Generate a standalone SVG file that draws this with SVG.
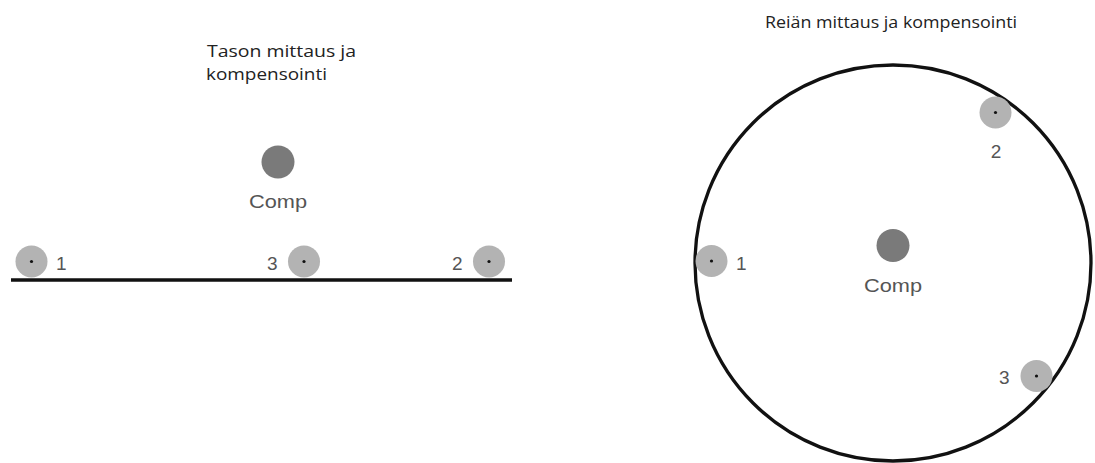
<svg xmlns="http://www.w3.org/2000/svg" width="1095" height="463" viewBox="0 0 1095 463">
<style>
.title{font-family:"Open Sans","Noto Sans",sans-serif;font-size:16px;fill:#222}
.lbl{font-family:"Liberation Sans",Arial,sans-serif;font-size:19px;fill:#555}
.sensor{fill:#b3b3b3}
.dot{fill:#111}
.comp{fill:#7a7a7a}
.edge{fill:none;stroke:#111;stroke-width:3.3}
</style>
<rect width="1095" height="463" fill="#fff"/>
<g id="left-title">
<text class="title" x="207" y="57" textLength="149" lengthAdjust="spacingAndGlyphs">Tason mittaus ja</text>
<text class="title" x="206" y="80" textLength="121" lengthAdjust="spacingAndGlyphs">kompensointi</text>
</g>
<g id="right-title">
<text class="title" x="765" y="28" textLength="252" lengthAdjust="spacingAndGlyphs">Reiän mittaus ja kompensointi</text>
</g>
<g id="connectors">
<line class="edge" x1="11" y1="280" x2="512" y2="280"/>
<circle class="edge" cx="893" cy="263" r="198"/>
</g>
<g id="left-comp">
<circle class="comp" cx="278" cy="162" r="16.5"/>
<text class="lbl" x="278" y="208" text-anchor="middle" textLength="58" lengthAdjust="spacingAndGlyphs">Comp</text>
</g>
<g id="left-s1">
<circle class="sensor" cx="31.5" cy="261.5" r="16"/>
<circle class="dot" cx="31.5" cy="261.5" r="1.6"/>
<text class="lbl" x="56" y="270">1</text>
</g>
<g id="left-s3">
<circle class="sensor" cx="304" cy="261.5" r="16"/>
<circle class="dot" cx="304" cy="261.5" r="1.6"/>
<text class="lbl" x="267" y="270">3</text>
</g>
<g id="left-s2">
<circle class="sensor" cx="489" cy="261.5" r="16"/>
<circle class="dot" cx="489" cy="261.5" r="1.6"/>
<text class="lbl" x="452" y="270">2</text>
</g>
<g id="right-comp">
<circle class="comp" cx="893" cy="245.5" r="16.5"/>
<text class="lbl" x="893" y="292" text-anchor="middle" textLength="58" lengthAdjust="spacingAndGlyphs">Comp</text>
</g>
<g id="right-s1">
<circle class="sensor" cx="711.5" cy="261" r="16"/>
<circle class="dot" cx="711.5" cy="261" r="1.6"/>
<text class="lbl" x="736" y="270">1</text>
</g>
<g id="right-s2">
<circle class="sensor" cx="995.5" cy="112.5" r="16"/>
<circle class="dot" cx="995.5" cy="112.5" r="1.6"/>
<text class="lbl" x="996" y="158" text-anchor="middle">2</text>
</g>
<g id="right-s3">
<circle class="sensor" cx="1036.5" cy="376" r="16"/>
<circle class="dot" cx="1036.5" cy="376" r="1.6"/>
<text class="lbl" x="999" y="384">3</text>
</g>
</svg>
